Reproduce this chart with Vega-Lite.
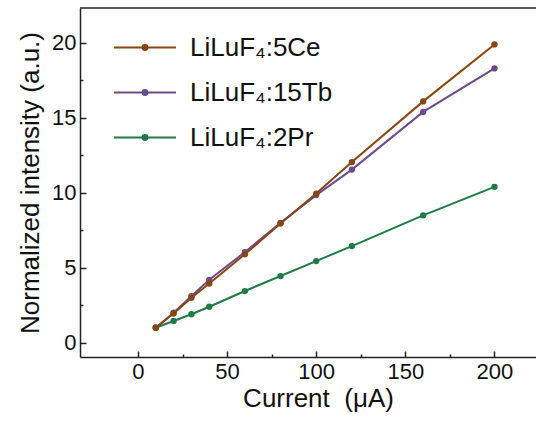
{
  "$schema": "https://vega.github.io/schema/vega-lite/v6.json",
  "width": 456,
  "height": 349,
  "autosize": {"type": "none"},
  "padding": {"left": 80, "top": 8, "right": 0, "bottom": 64},
  "background": "white",
  "config": {"view": {"stroke": null}, "font": "Liberation Sans"},
  "layer": [
    {
      "data": {"values": [{}]},
      "mark": {"type": "rule", "color": "#222", "strokeWidth": 1.5},
      "encoding": {"y": {"datum": 22.33, "type": "quantitative"}}
    },
    {
      "data": {
        "values": [
          {"current": 10, "intensity": 1.0, "sample": "LiLuF₄:2Pr"},
          {"current": 20, "intensity": 1.45, "sample": "LiLuF₄:2Pr"},
          {"current": 30, "intensity": 1.9, "sample": "LiLuF₄:2Pr"},
          {"current": 40, "intensity": 2.4, "sample": "LiLuF₄:2Pr"},
          {"current": 60, "intensity": 3.45, "sample": "LiLuF₄:2Pr"},
          {"current": 80, "intensity": 4.45, "sample": "LiLuF₄:2Pr"},
          {"current": 100, "intensity": 5.45, "sample": "LiLuF₄:2Pr"},
          {"current": 120, "intensity": 6.45, "sample": "LiLuF₄:2Pr"},
          {"current": 160, "intensity": 8.5, "sample": "LiLuF₄:2Pr"},
          {"current": 200, "intensity": 10.4, "sample": "LiLuF₄:2Pr"},
          {"current": 10, "intensity": 1.0, "sample": "LiLuF₄:15Tb"},
          {"current": 20, "intensity": 2.0, "sample": "LiLuF₄:15Tb"},
          {"current": 30, "intensity": 3.1, "sample": "LiLuF₄:15Tb"},
          {"current": 40, "intensity": 4.2, "sample": "LiLuF₄:15Tb"},
          {"current": 60, "intensity": 6.05, "sample": "LiLuF₄:15Tb"},
          {"current": 80, "intensity": 8.0, "sample": "LiLuF₄:15Tb"},
          {"current": 100, "intensity": 9.85, "sample": "LiLuF₄:15Tb"},
          {"current": 120, "intensity": 11.55, "sample": "LiLuF₄:15Tb"},
          {"current": 160, "intensity": 15.4, "sample": "LiLuF₄:15Tb"},
          {"current": 200, "intensity": 18.3, "sample": "LiLuF₄:15Tb"},
          {"current": 10, "intensity": 1.0, "sample": "LiLuF₄:5Ce"},
          {"current": 20, "intensity": 1.95, "sample": "LiLuF₄:5Ce"},
          {"current": 30, "intensity": 3.0, "sample": "LiLuF₄:5Ce"},
          {"current": 40, "intensity": 3.95, "sample": "LiLuF₄:5Ce"},
          {"current": 60, "intensity": 5.9, "sample": "LiLuF₄:5Ce"},
          {"current": 80, "intensity": 7.95, "sample": "LiLuF₄:5Ce"},
          {"current": 100, "intensity": 9.95, "sample": "LiLuF₄:5Ce"},
          {"current": 120, "intensity": 12.05, "sample": "LiLuF₄:5Ce"},
          {"current": 160, "intensity": 16.1, "sample": "LiLuF₄:5Ce"},
          {"current": 200, "intensity": 19.9, "sample": "LiLuF₄:5Ce"}
        ]
      },
      "mark": {"type": "line", "strokeWidth": 2, "point": {"filled": true, "size": 40, "opacity": 1}},
      "encoding": {
        "x": {
          "field": "current",
          "type": "quantitative",
          "scale": {"domain": [-32.5, 223.3], "nice": false, "zero": false},
          "axis": {
            "title": "Current \u00a0(μA)",
            "values": [0, 25, 50, 75, 100, 125, 150, 175, 200],
            "labelExpr": "datum.value % 50 === 0 ? datum.label : ''",
            "tickSize": {"condition": {"test": "datum.value % 50 !== 0", "value": -3}, "value": -6},
            "tickWidth": 1.5,
            "tickColor": "#222",
            "domainColor": "#222",
            "domainWidth": 1.5,
            "grid": false,
            "labelFontSize": 22,
            "labelColor": "#111",
            "labelPadding": 10,
            "labelFlush": false,
            "titleFontSize": 26,
            "titleFontWeight": "normal",
            "titleColor": "#111",
            "titlePadding": 3,
            "titleX": 238,
            "titleAlign": "center"
          }
        },
        "y": {
          "field": "intensity",
          "type": "quantitative",
          "scale": {"domain": [-0.95, 22.33], "nice": false, "zero": false},
          "axis": {
            "title": "Normalized intensity (a.u.)",
            "values": [0, 2.5, 5, 7.5, 10, 12.5, 15, 17.5, 20],
            "labelExpr": "datum.value % 5 === 0 ? datum.label : ''",
            "tickSize": {"condition": {"test": "datum.value % 5 !== 0", "value": -3}, "value": -6},
            "tickWidth": 1.5,
            "tickColor": "#222",
            "domainColor": "#222",
            "domainWidth": 1.5,
            "grid": false,
            "labelFontSize": 22,
            "labelColor": "#111",
            "labelPadding": 10,
            "titleFontSize": 26,
            "titleFontWeight": "normal",
            "titleColor": "#111",
            "titlePadding": 8
          }
        },
        "color": {
          "field": "sample",
          "type": "nominal",
          "sort": null,
          "scale": {
            "domain": ["LiLuF₄:5Ce", "LiLuF₄:15Tb", "LiLuF₄:2Pr"],
            "range": ["#87450f", "#6c4a8e", "#1f7b45"]
          },
          "legend": {
            "title": null,
            "orient": "none",
            "legendX": 33,
            "legendY": 7.5,
            "padding": 0,
            "symbolType": "M-1,0H1M-0.08,0A0.08,0.08,0,1,0,0.08,0A0.08,0.08,0,1,0,-0.08,0Z",
            "symbolSize": 3844,
            "symbolStrokeWidth": 2,
            "labelFontSize": 26,
            "labelColor": "#111",
            "labelOffset": 13,
            "rowPadding": -21.5,
            "labelLimit": 300,
            "encode": {
              "symbols": {
                "update": {
                  "fill": {"scale": "color", "field": "value"},
                  "stroke": {"scale": "color", "field": "value"},
                  "opacity": {"value": 1}
                }
              }
            }
          }
        }
      }
    }
  ]
}
